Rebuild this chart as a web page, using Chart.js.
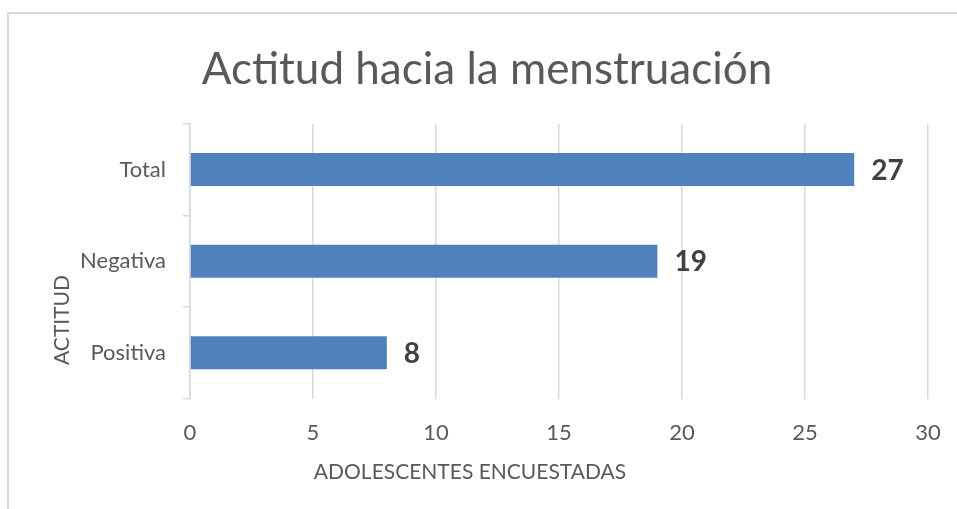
<!DOCTYPE html>
<html>
<head>
<meta charset="utf-8">
<script src="https://cdn.jsdelivr.net/npm/chart.js@4/dist/chart.umd.min.js"></script>
<style>
  html, body { margin: 0; padding: 0; background: #fff; }
  #frame { position: absolute; left: 7px; top: 12px; width: 960px; height: 510px;
           border-top: 2px solid #d9d9d9; border-left: 2px solid #d9d9d9; }
  #wrap { position: absolute; left: 0; top: 0; width: 957px; height: 509px; }
</style>
</head>
<body>
<div id="frame"></div>
<div id="wrap"><canvas id="chart" width="957" height="509"></canvas></div>
<script>
// ================= DATA =================
const categories = ["Total", "Negativa", "Positiva"];
const values = [27, 19, 8];
const xTicks = [0, 5, 10, 15, 20, 25, 30];

const FONT = "Lato, 'Open Sans', sans-serif";
const TEXT = "#595959";
const GRID = "#d9d9d9";

// value labels at bar ends + axis titles
const extras = {
    id: "extras",
    afterDatasetsDraw(chart) {
        const ctx = chart.ctx;
        const meta = chart.getDatasetMeta(0);
        ctx.save();
        ctx.fillStyle = "#404040";
        ctx.font = "bold 28px " + FONT;
        ctx.textAlign = "left";
        ctx.textBaseline = "middle";
        meta.data.forEach((bar, i) => {
            ctx.fillText(String(values[i]), bar.x + 17, bar.y + 1);
        });

        ctx.fillStyle = TEXT;
        ctx.font = "21px " + FONT;
        ctx.textAlign = "center";
        ctx.fillText("ADOLESCENTES ENCUESTADAS", 470, 472);

        ctx.translate(62, 320);
        ctx.rotate(-Math.PI / 2);
        ctx.fillText("ACTITUD", 0, 0);
        ctx.restore();
    }
};

new Chart(document.getElementById("chart"), {
    type: "bar",
    data: {
        labels: categories,
        datasets: [{
            data: values,
            backgroundColor: "#4f81bd",
            barPercentage: 0.36,
            categoryPercentage: 1
        }]
    },
    options: {
        indexAxis: "y",
        responsive: false,
        animation: false,
        layout: { padding: { left: 46, right: 29, top: 0, bottom: 42 } },
        plugins: {
            legend: { display: false },
            tooltip: { enabled: false },
            title: {
                display: true,
                text: "Actitud hacia la menstruación",
                color: TEXT,
                font: { family: FONT, size: 44, weight: "normal" },
                padding: { top: 43, bottom: 28 }
            }
        },
        scales: {
            x: {
                min: 0,
                max: 30,
                afterBuildTicks(scale) {
                    scale.ticks = xTicks.map(v => ({ value: v }));
                },
                afterFit(scale) { scale.paddingLeft = 0; scale.paddingRight = 0; },
                grid: { color: GRID, lineWidth: 1.5, drawTicks: false },
                border: { display: false },
                ticks: { color: TEXT, padding: 21, font: { family: FONT, size: 22 } }
            },
            y: {
                afterFit(scale) { scale.width = 144; },
                grid: { color: GRID, lineWidth: 1.5, drawOnChartArea: false, drawTicks: true, tickLength: 7 },
                border: { display: true, color: GRID, width: 1.5 },
                ticks: { color: TEXT, padding: 17, font: { family: FONT, size: 22 } }
            }
        }
    },
    plugins: [extras]
});
</script>
</body>
</html>
